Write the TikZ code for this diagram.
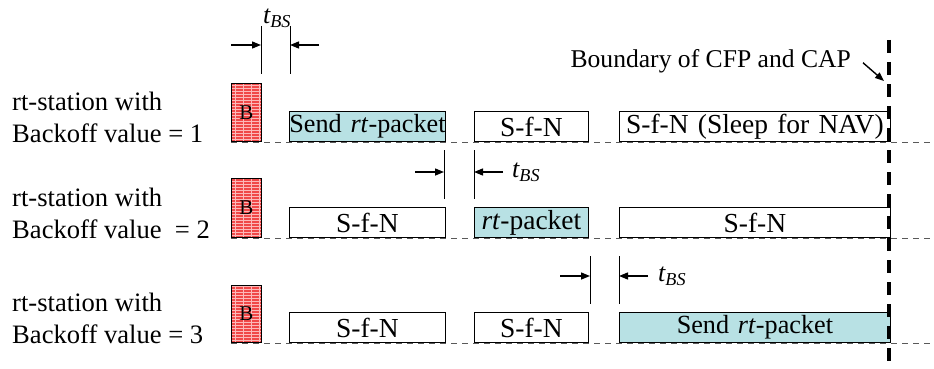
\documentclass[tikz,border=0pt]{standalone}
\usepackage{fontspec}
\setmainfont{Liberation Serif}
\usetikzlibrary{positioning}
\usetikzlibrary{arrows.meta}

\definecolor{pktcyan}{RGB}{184,225,228}
\definecolor{bkred}{RGB}{240,72,72}
\definecolor{bkgrid}{RGB}{252,185,185}

\tikzset{
	lbl/.style={align=left,anchor=base west,inner sep=0pt,font=\fontsize{26.6}{32}\selectfont},
	slot/.style={draw,line width=0.8pt,anchor=south west,minimum height=30pt,minimum width=#1,text width=#1,
		align=center,inner sep=0pt,font=\fontsize{27.5}{30}\selectfont},
	pkt/.style={slot=#1,fill=pktcyan},
	sendtxt/.style={font=\fontsize{26.2}{30}\selectfont},
	bkf/.style={draw,line width=0.8pt,anchor=south west,minimum width=30pt,inner sep=0pt,fill=bkred,
		path picture={
			\foreach \k in {2,5,...,59}
				\draw[bkgrid,line width=0.9pt] ([yshift=\k pt]path picture bounding box.south west) -- ([yshift=\k pt]path picture bounding box.south east);
			\foreach \k in {4,12,20,28}
				\draw[bkgrid,line width=0.9pt] ([xshift=\k pt]path picture bounding box.south west) -- ([xshift=\k pt]path picture bounding box.north west);
		},font=\fontsize{21}{22}\selectfont},
	baseln/.style={dashed,dash pattern=on 6pt off 5pt,gray!70!black,line width=0.8pt},
	gapln/.style={line width=1pt},
	tip/.style={-{Triangle[length=9pt,width=7pt]},line width=1.4pt},
	tbs/.style={inner sep=0pt,font=\fontsize{26}{30}\selectfont\itshape}
}

\begin{document}
\begin{tikzpicture}[x=1pt,y=-1pt]
		\useasboundingbox (0,0) rectangle (934,369);

		% time lines of the three stations
		\draw[baseln] (231,142) -- (934,142);
		\draw[baseln] (231,238) -- (934,238);
		\draw[baseln] (231,343) -- (934,343);

		% station 1
		\node[lbl] (st1) at (12,142) {rt-station with\\Backoff value = 1};
		\node[bkf,minimum height=58pt] (b1) at (231,142) {B};
		\node[pkt=156pt,sendtxt] (p1a) at (289,142) {\mbox{Send \textit{rt}-packet}};
		\node[slot=114pt] (p1b) at (474,142) {S-f-N};
		\node[slot=271pt] (p1c) at (619,142) {S-f-N (Sleep for NAV)};

		% station 2
		\node[lbl] (st2) at (12,238) {rt-station with\\Backoff value\ \ = 2};
		\node[bkf,minimum height=59pt] (b2) at (231,238) {B};
		\node[slot=156pt] (p2a) at (289,238) {S-f-N};
		\node[pkt=114pt] (p2b) at (474,238) {\textit{rt}-packet};
		\node[slot=271pt] (p2c) at (619,238) {S-f-N};

		% station 3
		\node[lbl] (st3) at (12,343) {rt-station with\\Backoff value = 3};
		\node[bkf,minimum height=57pt] (b3) at (231,343) {B};
		\node[slot=156pt] (p3a) at (289,343) {S-f-N};
		\node[slot=114pt] (p3b) at (474,343) {S-f-N};
		\node[pkt=271pt,sendtxt] (p3c) at (619,343) {Send \textit{rt}-packet};

		% t_BS gaps
		\draw[gapln] (261,26) -- (261,74);
		\draw[gapln] (290,26) -- (290,74);
		\coordinate (a1l) at (231,45);
		\coordinate (a1r) at (319,45);
		\draw[tip] (a1l) -- (261,45);
		\draw[tip] (a1r) -- (290,45);
		\node[tbs] (t1) at (277,18) {t\textsubscript{BS}};

		\draw[gapln] (444,150) -- (444,199);
		\draw[gapln] (474,150) -- (474,199);
		\coordinate (a2l) at (415,172);
		\coordinate (a2r) at (503,172);
		\draw[tip] (a2l) -- (444,172);
		\draw[tip] (a2r) -- (474,172);
		\node[tbs,anchor=west] (t2) at (512,172) {t\textsubscript{BS}};

		\draw[gapln] (590,256) -- (590,304);
		\draw[gapln] (619,256) -- (619,304);
		\coordinate (a3l) at (560,276);
		\coordinate (a3r) at (648,276);
		\draw[tip] (a3l) -- (590,276);
		\draw[tip] (a3r) -- (619,276);
		\node[tbs,anchor=west] (t3) at (658,276) {t\textsubscript{BS}};

		% boundary
		\draw[line width=3.2pt,dash pattern=on 13pt off 9pt] (889,40) -- (889,369);
		\node[inner sep=0pt,anchor=base east,font=\fontsize{25.6}{28}\selectfont] (bd) at (851,67) {Boundary of CFP and CAP};
		\coordinate (bdtip) at (884,81);
		\draw[-{Triangle[length=9pt,width=7pt]},line width=1.4pt] (bd.east) ++(12,2) -- (bdtip);
	\end{tikzpicture}
\end{document}
